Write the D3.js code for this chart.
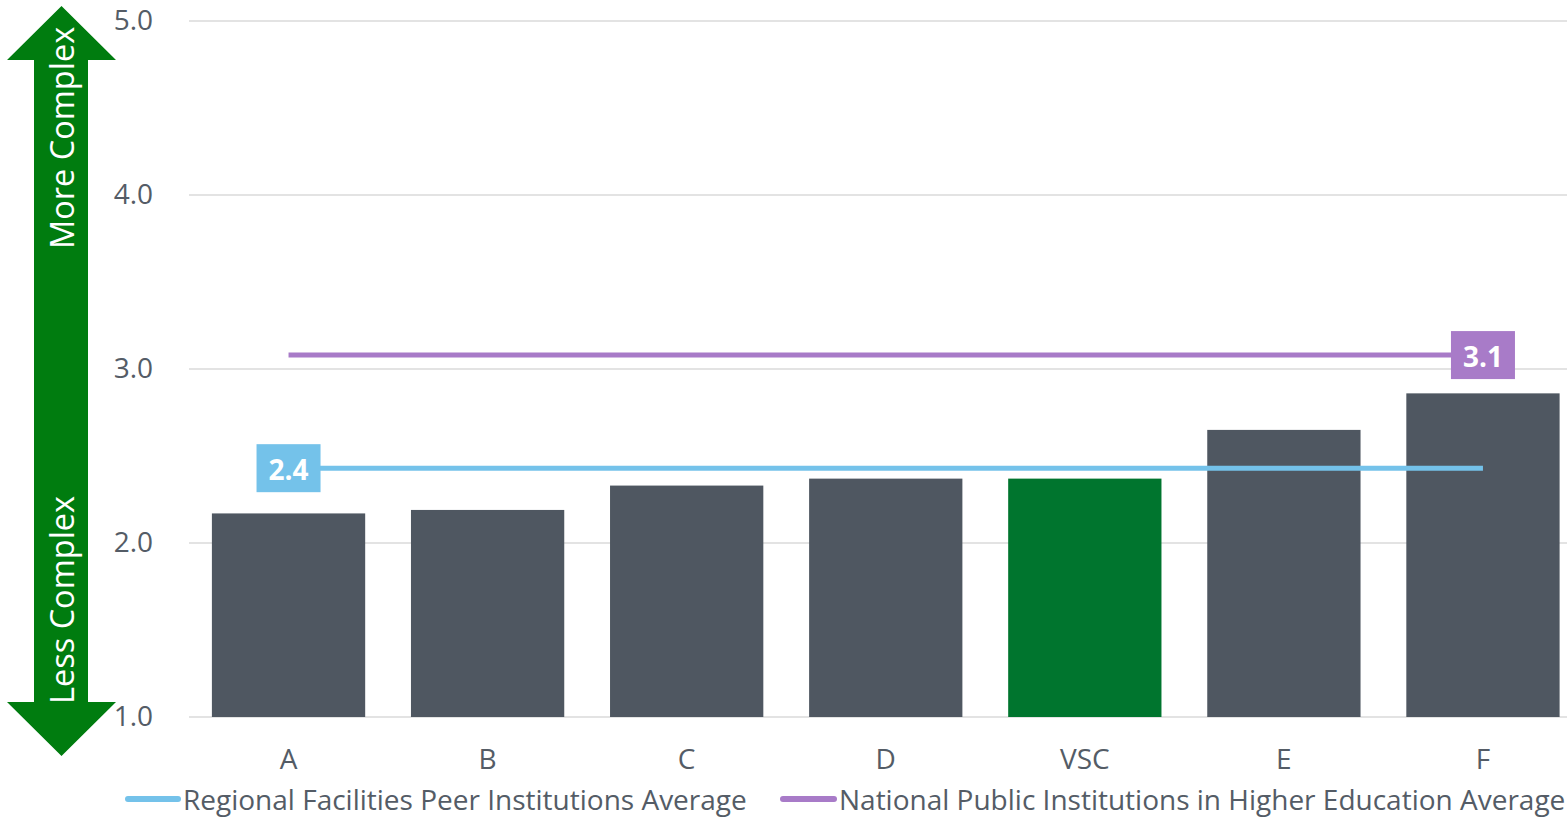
<!DOCTYPE html>
<html>
<head>
<meta charset="utf-8">
<script src="https://cdn.jsdelivr.net/npm/d3@7"></script>
<style>
  html, body { margin: 0; padding: 0; background: #ffffff; }
  svg { display: block; font-family: "Open Sans", "Noto Sans", sans-serif; }
</style>
</head>
<body>
<svg id="chart" width="1567" height="817"></svg>
<script>
// Facility complexity index by institution
const categories = ["A", "B", "C", "D", "VSC", "E", "F"];
const scores = [2.17, 2.19, 2.33, 2.37, 2.37, 2.65, 2.86];
const highlight = "VSC";
const yTicks = [1, 2, 3, 4, 5];

// Reference averages drawn as horizontal lines
const regionalAverage = 2.43;
const nationalAverage = 3.08;
const legendLabels = [
  "Regional Facilities Peer Institutions Average",
  "National Public Institutions in Higher Education Average"
];

const colors = {
  bar: "#4f5761",
  highlight: "#00752e",
  regional: "#74c2ea",
  national: "#a87bc8",
  arrow: "#007c0f",
  text: "#545c66",
  grid: "#e3e3e3"
};

const svg = d3.select("#chart");
const plot = { left: 189, right: 1582.5, top: 21, bottom: 717 };

const x = d3.scaleBand()
  .domain(categories)
  .range([plot.left, plot.right])
  .paddingInner(0.23)
  .paddingOuter(0.115);

const y = d3.scaleLinear()
  .domain([1, 5])
  .range([plot.bottom, plot.top]);

// Gridlines
svg.append("g")
  .selectAll("line")
  .data(yTicks)
  .join("line")
  .attr("x1", plot.left)
  .attr("x2", plot.right)
  .attr("y1", d => y(d))
  .attr("y2", d => y(d))
  .attr("stroke", colors.grid)
  .attr("stroke-width", 2);

// Y axis labels
const yAxis = svg.append("g")
  .attr("transform", `translate(${plot.left - 36},0)`)
  .call(d3.axisLeft(y).tickValues(yTicks).tickFormat(d3.format(".1f")).tickSize(0).tickPadding(0));
yAxis.select(".domain").remove();
yAxis.selectAll("text")
  .attr("fill", colors.text)
  .style("font-size", "28px")
  .style("font-family", "'Open Sans', sans-serif");

// Bars
svg.append("g")
  .selectAll("rect")
  .data(categories.map((c, i) => ({ c, v: scores[i] })))
  .join("rect")
  .attr("x", d => x(d.c))
  .attr("width", x.bandwidth())
  .attr("y", d => y(d.v))
  .attr("height", d => y(1) - y(d.v))
  .attr("fill", d => d.c === highlight ? colors.highlight : colors.bar);

// X axis labels
const xAxis = svg.append("g")
  .attr("transform", `translate(0,${plot.bottom + 32})`)
  .call(d3.axisBottom(x).tickSize(0).tickPadding(0));
xAxis.select(".domain").remove();
xAxis.selectAll("text")
  .attr("fill", colors.text)
  .style("font-size", "28px")
  .style("font-family", "'Open Sans', sans-serif");

// Average lines with value tags
const first = categories[0], last = categories[categories.length - 1];
const cx = c => x(c) + x.bandwidth() / 2;
const fmt = d3.format(".1f");

function averageLine(value, color, tagAt) {
  svg.append("line")
    .attr("x1", cx(first)).attr("x2", cx(last))
    .attr("y1", y(value)).attr("y2", y(value))
    .attr("stroke", color).attr("stroke-width", 5);
  const tx = cx(tagAt), ty = y(value);
  svg.append("rect")
    .attr("x", tx - 32).attr("y", ty - 24)
    .attr("width", 64).attr("height", 48)
    .attr("fill", color);
  svg.append("text")
    .attr("x", tx).attr("y", ty + 1)
    .attr("text-anchor", "middle")
    .attr("dominant-baseline", "central")
    .attr("fill", "#ffffff")
    .style("font-size", "28px")
    .style("font-weight", "bold")
    .text(fmt(value));
}
averageLine(nationalAverage, colors.national, last);
averageLine(regionalAverage, colors.regional, first);

// Complexity direction arrow
const arrow = svg.append("g");
const ax = 61.5, shaftL = 34, shaftR = 88, headL = 7, headR = 116;
arrow.append("path")
  .attr("d", `M${ax},6 L${headR},60 L${shaftR},60 L${shaftR},702 L${headR},702 L${ax},756 L${headL},702 L${shaftL},702 L${shaftL},60 L${headL},60 Z`)
  .attr("fill", colors.arrow);
arrow.append("text")
  .attr("transform", `translate(${ax + 12},249) rotate(-90)`)
  .attr("fill", "#ffffff")
  .style("font-size", "32.5px")
  .text("More Complex");
arrow.append("text")
  .attr("transform", `translate(${ax + 12},704) rotate(-90)`)
  .attr("fill", "#ffffff")
  .style("font-size", "32.5px")
  .text("Less Complex");

// Legend
const legend = svg.append("g").attr("transform", "translate(0,799)");
const legendItems = [
  { label: legendLabels[0], color: colors.regional, x0: 128, x1: 178, tx: 183 },
  { label: legendLabels[1], color: colors.national, x0: 783, x1: 834, tx: 839 }
];
legendItems.forEach(d => {
  legend.append("line")
    .attr("x1", d.x0).attr("x2", d.x1)
    .attr("stroke", d.color).attr("stroke-width", 6)
    .attr("stroke-linecap", "round");
  legend.append("text")
    .attr("x", d.tx).attr("y", 0)
    .attr("dominant-baseline", "central")
    .attr("fill", colors.text)
    .style("font-size", "28px")
    .text(d.label);
});
</script>
</body>
</html>
